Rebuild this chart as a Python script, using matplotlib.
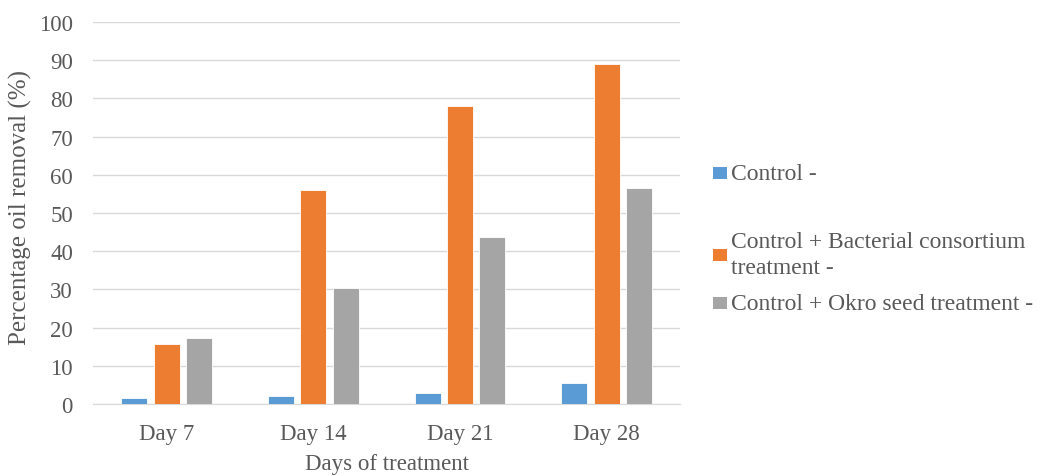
import matplotlib
matplotlib.use("Agg")
import matplotlib.pyplot as plt
from matplotlib.patches import Rectangle
import numpy as np

days = ["Day 7", "Day 14", "Day 21", "Day 28"]
series_names = [
    "Control -",
    "Control + Bacterial consortium\ntreatment -",
    "Control + Okro seed treatment -",
]
control = [1.5, 2.2, 2.8, 5.6]
bacterial = [15.7, 56.1, 77.9, 88.9]
okro = [17.2, 30.4, 43.7, 56.5]
colors = ["#5B9BD5", "#ED7D31", "#A5A5A5"]

plt.rcParams["font.family"] = ["Liberation Serif", "DejaVu Serif"]
text_color = "#595959"

fig = plt.figure(figsize=(10.41, 4.77), dpi=100)
ax = fig.add_axes([0.0898, 0.151, 0.5634, 0.801])

x = np.arange(len(days))
width = 0.178
step = 0.221
for i, (vals, col) in enumerate(zip([control, bacterial, okro], colors)):
    ax.bar(x + (i - 1) * step, vals, width, color=col,
           edgecolor="white", linewidth=0.6, zorder=3)

ax.set_xlim(-0.5, len(days) - 0.5)
ax.set_ylim(0, 100)
ax.set_yticks(np.arange(0, 101, 10))
ax.set_xticks(x)
ax.set_xticklabels(days)
ax.yaxis.grid(True, color="#D9D9D9", linewidth=1.0, zorder=0)
for s in ["top", "right", "left"]:
    ax.spines[s].set_visible(False)
ax.spines["bottom"].set_color("#D9D9D9")
ax.tick_params(axis="both", length=0, labelsize=16.5, colors=text_color)
ax.tick_params(axis="y", pad=14.8)
ax.tick_params(axis="x", pad=14)
ax.set_xlabel("Days of treatment", fontsize=16.5, color=text_color, labelpad=6)
ax.set_ylabel("Percentage oil removal (%)", fontsize=18, color=text_color)
ax.yaxis.set_label_coords(-0.105, 0.517)

# legend drawn as swatches with text to the right of the plot
legend_y = [174, 255.5, 304]
W, H = fig.get_size_inches() * fig.dpi
for name, col, yy in zip(series_names, colors, legend_y):
    yf = 1 - yy / H
    fig.patches.append(Rectangle((713 / W, yf - 6 / H), 14 / W, 12 / H,
                                 transform=fig.transFigure, facecolor=col,
                                 edgecolor="none"))
    fig.text(731 / W, yf, name, fontsize=17, color=text_color,
             va="center", ha="left", linespacing=1.33)

fig.savefig("out.png", dpi=100)
